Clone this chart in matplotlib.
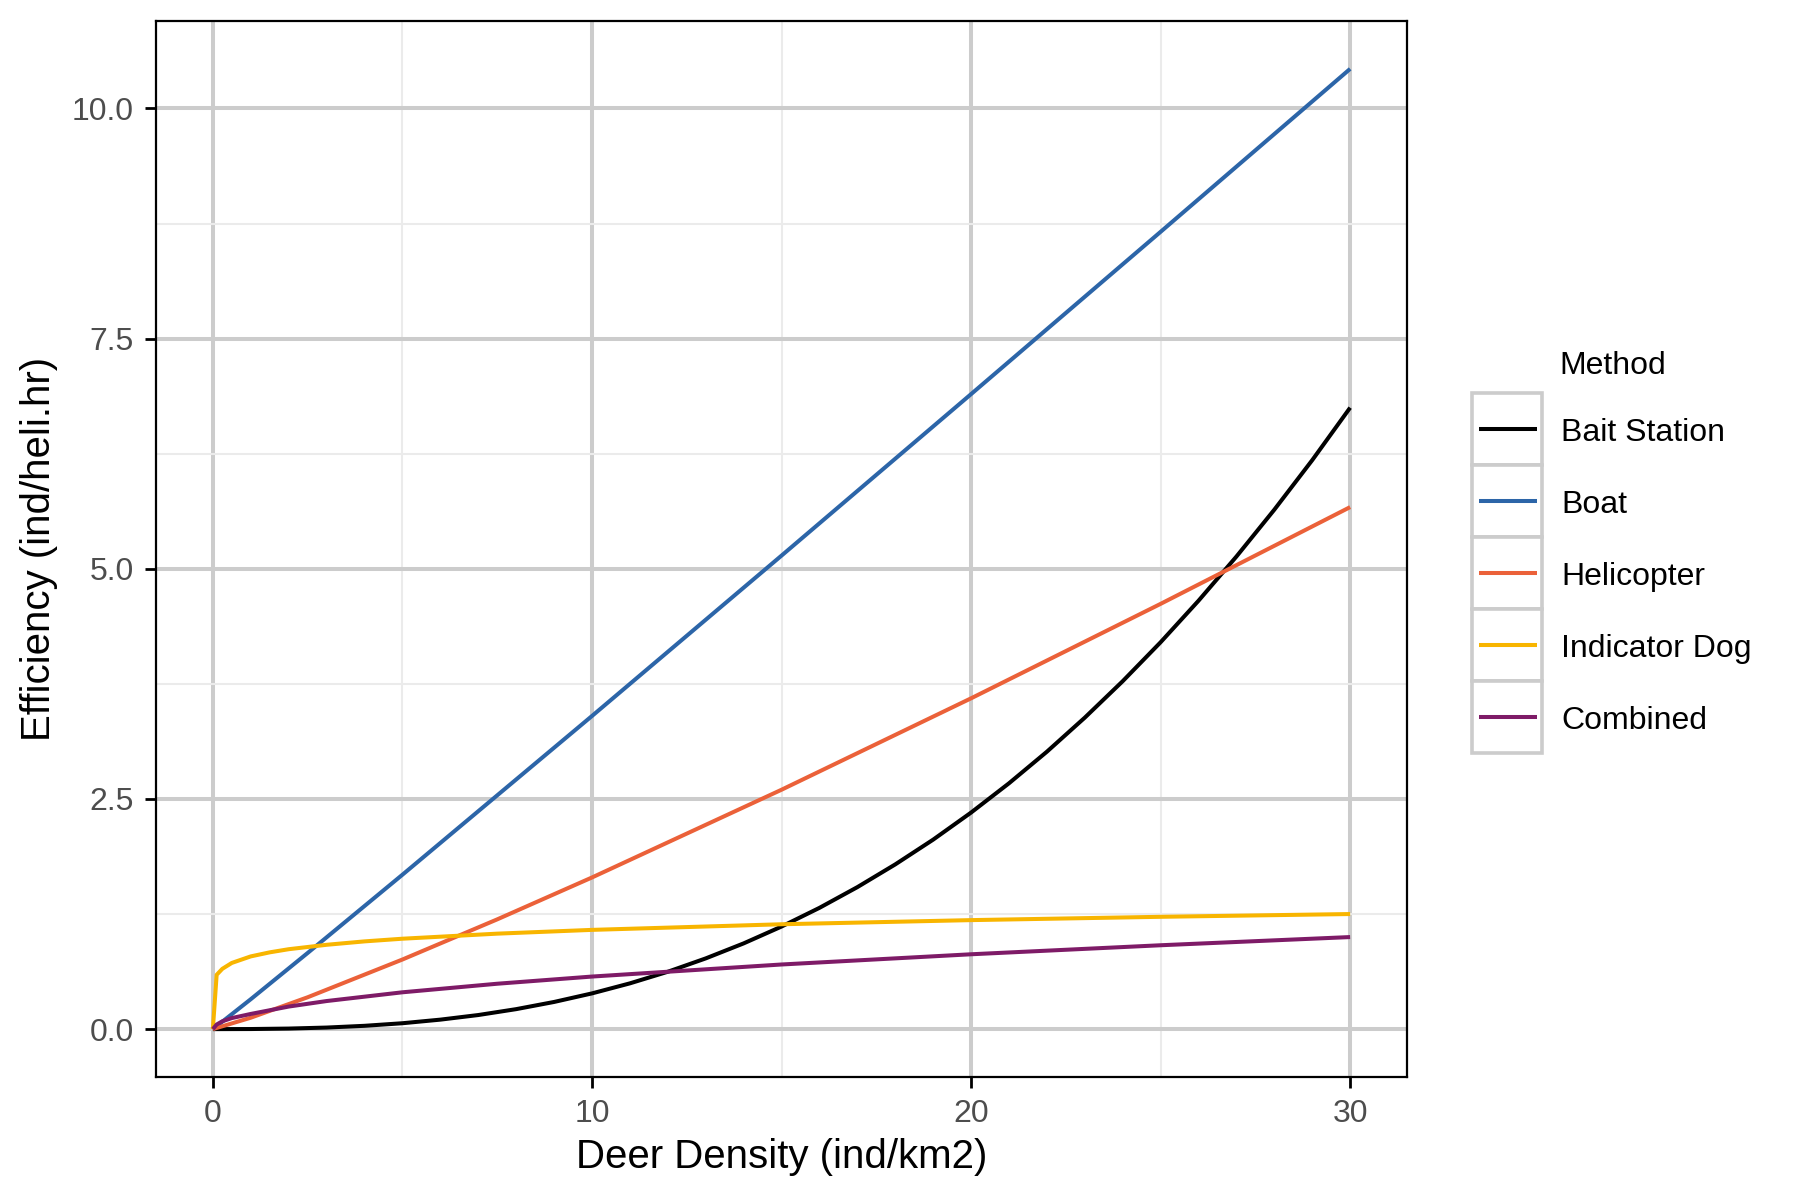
import matplotlib
matplotlib.use("Agg")
import matplotlib.pyplot as plt
from matplotlib.patches import Rectangle
from matplotlib.ticker import MultipleLocator, FormatStrFormatter

plt.rcParams['font.family'] = ['Liberation Sans', 'DejaVu Sans']

# ---------------------------------------------------------------
# Data
# ---------------------------------------------------------------
methods = ['Bait Station', 'Boat', 'Helicopter', 'Indicator Dog', 'Combined']
colors = ['#000000', '#2C65A8', '#EB6139', '#F8B500', '#7E1B67']

bait_x = [0, 1, 2, 3, 4, 5, 6, 7, 8, 9, 10, 11, 12, 13, 14, 15, 16, 17, 18,
          19, 20, 21, 22, 23, 24, 25, 26, 27, 28, 29, 30]
bait_y = [0, 0.001, 0.006, 0.017, 0.036, 0.064, 0.103, 0.153, 0.217, 0.295,
          0.388, 0.497, 0.623, 0.768, 0.931, 1.114, 1.317, 1.542, 1.789,
          2.058, 2.352, 2.670, 3.013, 3.383, 3.779, 4.202, 4.653, 5.133,
          5.642, 6.180, 6.75]

boat_x = [0, 1, 2.5, 5, 10, 15, 20, 25, 30]
boat_y = [0, 0.325, 0.827, 1.677, 3.401, 5.143, 6.897, 8.660, 10.43]

heli_x = [0, 1, 2.5, 5, 7.5, 10, 15, 20, 25, 30]
heli_y = [0, 0.124, 0.346, 0.756, 1.192, 1.647, 2.600, 3.593, 4.619, 5.67]

dog_x = [0, 0.1, 0.25, 0.5, 1, 1.5, 2, 3, 4, 5, 7.5, 10, 15, 20, 25, 30]
dog_y = [0, 0.59, 0.655, 0.719, 0.79, 0.834, 0.868, 0.916, 0.953, 0.982,
         1.037, 1.078, 1.139, 1.184, 1.220, 1.250]

comb_x = [0, 0.1, 0.25, 0.5, 1, 2, 3, 5, 7.5, 10, 15, 20, 25, 30]
comb_y = [0, 0.05, 0.085, 0.12, 0.165, 0.245, 0.305, 0.40, 0.493, 0.571,
          0.702, 0.813, 0.911, 1.0]

series_x = [bait_x, boat_x, heli_x, dog_x, comb_x]
series_y = [bait_y, boat_y, heli_y, dog_y, comb_y]

# ---------------------------------------------------------------
# Figure
# ---------------------------------------------------------------
W, H = 1800, 1200
fig = plt.figure(figsize=(9, 6), dpi=200)
ax = fig.add_axes([156 / W, 1 - 1077 / H, (1407 - 156) / W, (1077 - 21) / H])

for xs, ys, c in zip(series_x, series_y, colors):
    ax.plot(xs, ys, color=c, linewidth=1.45, solid_capstyle='butt',
            solid_joinstyle='round', zorder=3)

ax.set_xlim(-1.5, 31.5)
ax.set_ylim(-0.52, 10.95)
ax.xaxis.set_major_locator(MultipleLocator(10))
ax.xaxis.set_minor_locator(MultipleLocator(5))
ax.yaxis.set_major_locator(MultipleLocator(2.5))
ax.yaxis.set_minor_locator(MultipleLocator(1.25))
ax.yaxis.set_major_formatter(FormatStrFormatter('%.1f'))

ax.grid(which='major', color='#CCCCCC', linewidth=1.45, zorder=0)
ax.grid(which='minor', color='#EBEBEB', linewidth=0.75, zorder=0)
ax.set_axisbelow(True)

for s in ax.spines.values():
    s.set_color('black')
    s.set_linewidth(0.8)

ax.tick_params(which='major', length=4, width=1.0, color='black',
               labelsize=11.5, labelcolor='#4D4D4D', pad=4)
ax.tick_params(which='minor', length=0)

ax.set_xlabel('Deer Density (ind/km2)', fontsize=14.5, labelpad=3)
ax.set_ylabel('Efficiency (ind/heli.hr)', fontsize=14.5, labelpad=5)

# ---------------------------------------------------------------
# Legend (ggplot style keys)
# ---------------------------------------------------------------
lg = fig.add_axes([0, 0, 1, 1], zorder=5)
lg.set_xlim(0, W)
lg.set_ylim(H, 0)
lg.axis('off')
lg.patch.set_alpha(0)

key_left, key_w, key_h, key_top = 1472, 70, 72, 393
lg.text(1559, 366, 'Method', fontsize=11.5, va='center', ha='left')
for i, (name, c) in enumerate(zip(methods, colors)):
    top = key_top + i * key_h
    lg.add_patch(Rectangle((key_left, top), key_w, key_h, facecolor='white',
                           edgecolor='#CCCCCC', linewidth=1.3))
    yc = top + key_h / 2
    lg.plot([key_left + 7, key_left + key_w - 5], [yc, yc], color=c,
            linewidth=1.45, solid_capstyle='butt')
    lg.text(1561, yc + 4, name, fontsize=11.5, va='center', ha='left')

fig.savefig('out.png', dpi=200)
